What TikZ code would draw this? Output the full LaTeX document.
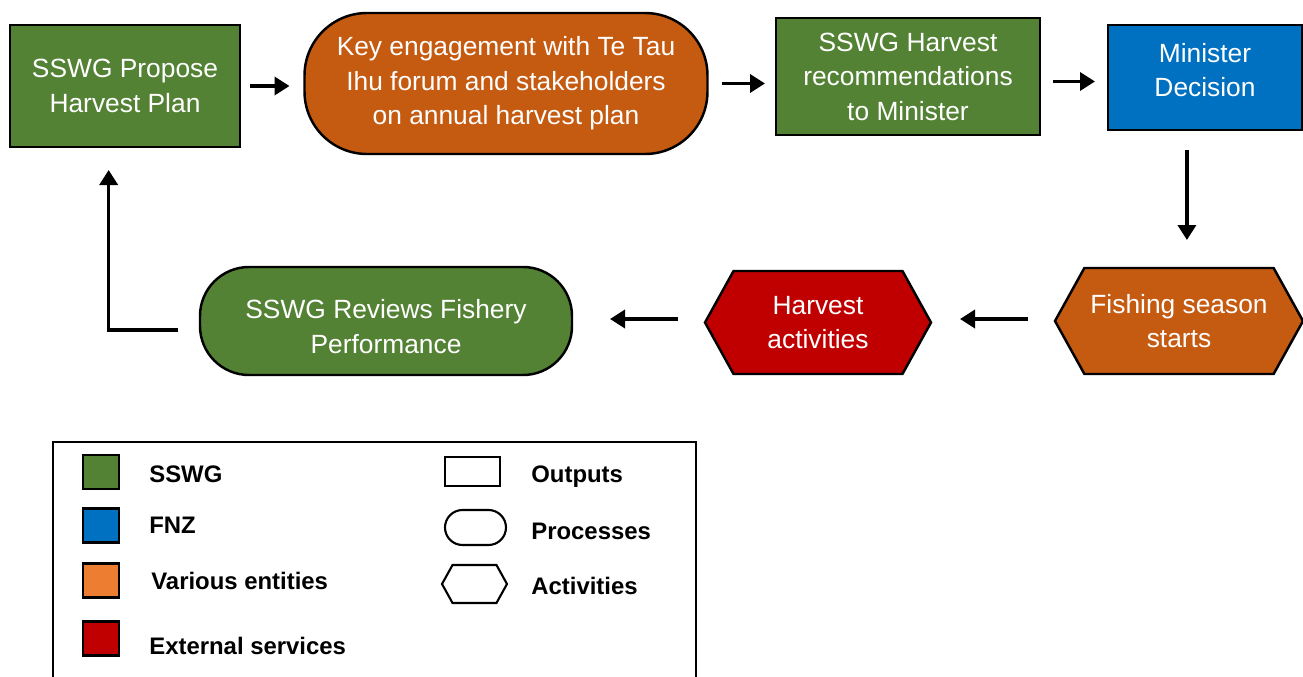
\documentclass[tikz,border=0pt]{standalone}
\usepackage{fontspec}
\setmainfont{Liberation Sans}
\usetikzlibrary{arrows.meta,shapes.misc,shapes.symbols}
\definecolor{SswgGreen}{HTML}{548235}
\definecolor{EntityOrange}{HTML}{C55A11}
\definecolor{FnzBlue}{HTML}{0070C0}
\definecolor{ExtRed}{HTML}{C00000}
\definecolor{KeyOrange}{HTML}{ED7D31}

\begin{document}
\begin{tikzpicture}[
  every node/.style={font=\fontsize{15}{19.6}\selectfont},
  box/.style={draw, line width=1.4pt, align=center, text=white,
              inner sep=0pt, outer sep=0pt},
  output/.style ={box, rectangle},
  process/.style={box, rectangle, rounded corners=#1},
  process/.default=1cm,
  activity/.style={box, signal, signal to=west and east,
                   signal pointer angle=122},
  swatch/.style={draw, line width=1.2pt, minimum width=0.72cm,
                 minimum height=0.68cm, inner sep=0pt},
  key/.style={anchor=west, inner sep=0pt,
              font=\fontsize{13.6}{16}\selectfont\bfseries},
  arr/.style={-{Triangle[length=0.3cm, width=0.36cm]}, line width=2pt},
]
\useasboundingbox (0,0) rectangle (26.06,-13.54);

%% ── Top row ──────────────────────────────────
\node[output, fill=SswgGreen, minimum width=4.6cm, minimum height=2.44cm]
      at (2.50,-1.72) (propose) {SSWG Propose\\Harvest Plan};
\node[process=1.25cm, fill=EntityOrange, minimum width=8.06cm, minimum height=2.82cm]
      at (10.12,-1.67) (engage) {Key engagement with Te Tau\\Ihu forum and stakeholders\\on annual harvest plan};
\node[output, fill=SswgGreen, minimum width=5.28cm, minimum height=2.34cm]
      at (18.16,-1.53) (recs) {SSWG Harvest\\recommendations\\to Minister};
\node[output, fill=FnzBlue, minimum width=3.88cm, minimum height=2.10cm,
      text depth=0.3cm]
      at (24.10,-1.55) (minister) {Minister\\Decision};

%% ── Bottom row ───────────────────────────────
\node[activity, fill=EntityOrange, minimum width=4.96cm, minimum height=2.12cm]
      at (23.58,-6.42) (fishing) {Fishing season\\starts};
\node[activity, fill=ExtRed, minimum width=4.52cm, minimum height=2.06cm]
      at (16.36,-6.45) (harvest) {Harvest\\activities};
\node[process=0.98cm, fill=SswgGreen, minimum width=7.44cm, minimum height=2.16cm]
      at (7.72,-6.42) (reviews) {\rule{0pt}{0.6cm}SSWG Reviews Fishery\\Performance};

%% ── Flow arrows ──────────────────────────────
\draw[arr, shorten <=0.2cm,  shorten >=0.3cm]
    (propose.east) -- (propose.east -| engage.west);
\draw[arr, shorten <=0.28cm, shorten >=0.22cm]
    (engage.east) -- (engage.east -| recs.west);
\draw[arr, shorten <=0.26cm, shorten >=0.26cm]
    ([yshift=-0.1cm]recs.east) -- ([yshift=-0.1cm]recs.east -| minister.west);
\draw[arr, shorten <=0.4cm,  shorten >=0.56cm]
    (minister.251) -- (minister.251 |- fishing.north);
\draw[arr, shorten <=0.54cm, shorten >=0.58cm]
    ([yshift=0.04cm]fishing.west) -- ([yshift=0.04cm]fishing.west -| harvest.east);
\draw[arr, shorten <=0.54cm, shorten >=0.76cm]
    ([yshift=0.04cm]fishing.west -| harvest.west) -- ([yshift=0.04cm]fishing.west -| reviews.east);
\draw[arr, shorten <=0.44cm, shorten >=0.46cm]
    ([yshift=-0.18cm]reviews.west) -| (propose.255);

%% ── Legend ───────────────────────────────────
\draw[line width=1.2pt] (1.06,-13.54) -- (1.06,-8.84) -- (13.92,-8.84) -- (13.92,-13.54);

\node[swatch, fill=SswgGreen]   at (2.02,-9.44)  (kSswg)  {};
\node[swatch, fill=FnzBlue]     at (2.02,-10.51) (kFnz)   {};
\node[swatch, fill=KeyOrange]   at (2.02,-11.61) (kVar)   {};
\node[swatch, fill=ExtRed]      at (2.02,-12.77) (kExt)   {};
\node[key] at (2.98,-9.48)  (lSswg) {SSWG};
\node[key] at (2.98,-10.50) (lFnz)  {FNZ};
\node[key] at (3.02,-11.62) (lVar)  {Various entities};
\node[key] at (2.98,-12.92) (lExt)  {External services};

\node[output, line width=1.2pt, minimum width=1.10cm, minimum height=0.58cm]
      at (9.45,-9.43) (kOut) {};
\node[process=0.35cm, line width=1.2pt, minimum width=1.22cm, minimum height=0.70cm]
      at (9.51,-10.55) (kProc) {};
\node[activity, line width=1.2pt, minimum width=1.30cm, minimum height=0.76cm]
      at (9.49,-11.68) (kAct) {};
\node[key] at (10.62,-9.54)  (lOut)  {Outputs};
\node[key] at (10.62,-10.62) (lProc) {Processes};
\node[key] at (10.62,-11.72) (lAct)  {Activities};

\end{tikzpicture}
\end{document}
